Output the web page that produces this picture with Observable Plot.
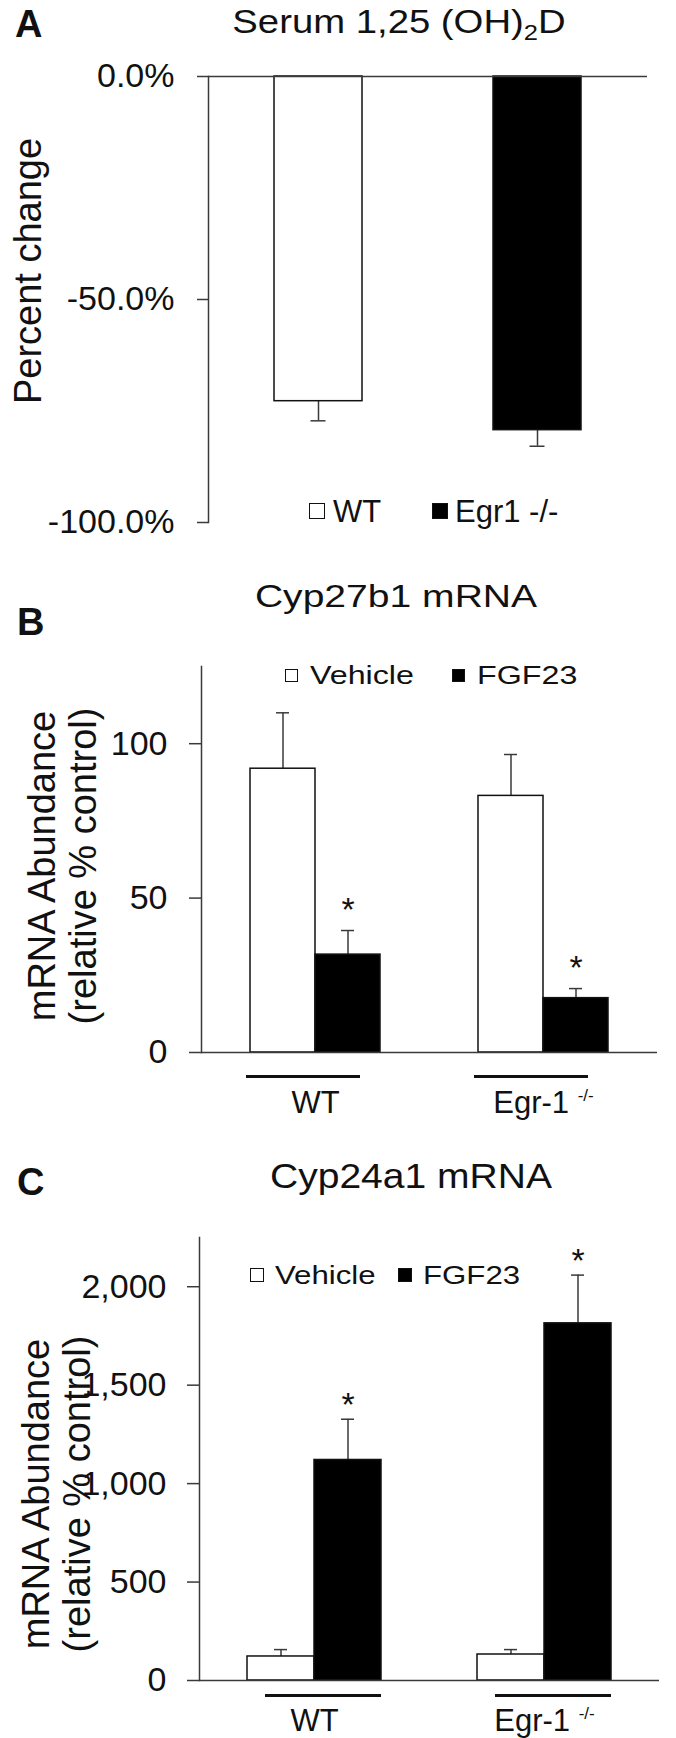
<!DOCTYPE html>
<html><head><meta charset="utf-8">
<script src="https://cdn.jsdelivr.net/npm/d3@7"></script>
<script src="https://cdn.jsdelivr.net/npm/@observablehq/plot@0.6"></script>
<style>
body{margin:0;background:#fff;}
#root{position:relative;width:676px;height:1738px;font-family:"Liberation Sans",Arial,sans-serif;color:#111;overflow:hidden;background:#fff;}
.abs{position:absolute;white-space:nowrap;line-height:1;}
.ylab{position:absolute;white-space:nowrap;text-align:center;transform:translate(-50%,-50%) rotate(-90deg);font-size:38px;line-height:41px;}
.box{position:absolute;box-sizing:border-box;border:1.5px solid #111;}
</style></head><body><div id="root"></div>
<script>
// ---------- data ----------
const panelAGroups = ["WT", "Egr1 -/-"];
const panelAValues = [-72.8, -79.3];
const panelAErrors = [-77.2, -82.9];
const panelATicks = [0, -50, -100];

const groups = ["WT", "Egr-1 -/-"];
const treatments = ["Vehicle", "FGF23"];
// order: WT-Vehicle, WT-FGF23, Egr-Vehicle, Egr-FGF23
const cyp27b1Values = [91.9, 31.7, 83.1, 17.6];
const cyp27b1Errors = [110, 39.5, 96.5, 20.7];
const cyp27b1Ticks = [0, 50, 100];
const cyp24a1Values = [122, 1120, 132, 1814];
const cyp24a1Errors = [157, 1327, 157, 2059];
const cyp24a1Ticks = [0, 500, 1000, 1500, 2000];
const significant = [false, true, false, true];

// ---------- helpers ----------
const FONT = '"Liberation Sans", Arial, sans-serif';
const INK = "#111";
const AXIS = "#3a3a3a";
const root = document.getElementById("root");

function put(html, {x, baseline, size, anchor = "start", bold = false, sx = 1}) {
  const d = document.createElement("div");
  d.className = "abs";
  d.innerHTML = html;
  d.style.fontSize = size + "px";
  d.style.top = (baseline - 0.8465 * size) + "px";
  d.style.left = x + "px";
  if (bold) d.style.fontWeight = "bold";
  if (anchor === "middle") {
    d.style.transformOrigin = "center";
    d.style.transform = `translateX(-50%) scaleX(${sx})`;
  } else {
    d.style.transformOrigin = "left";
    d.style.transform = `scaleX(${sx})`;
  }
  root.appendChild(d);
}
function ylab(html, cx, cy) {
  const d = document.createElement("div");
  d.className = "ylab";
  d.innerHTML = html;
  d.style.left = cx + "px";
  d.style.top = cy + "px";
  root.appendChild(d);
}
function legendItem(label, filled, x, textX, cy, o) {
  const b = document.createElement("div");
  b.className = "box";
  b.style.left = x + "px";
  b.style.width = o.box + "px";
  b.style.height = o.box + "px";
  b.style.top = (cy - o.box / 2) + "px";
  b.style.background = filled ? "#000" : "#fff";
  root.appendChild(b);
  put(label, {x: textX, baseline: cy + 0.358 * o.size, size: o.size, sx: o.sx});
}
function place(svg, top) {
  const w = document.createElement("div");
  w.style.position = "absolute";
  w.style.left = "0px";
  w.style.top = top + "px";
  w.appendChild(svg);
  root.appendChild(w);
}
function superscriptLabels(svg) {
  svg.querySelectorAll("text").forEach(t => {
    if (t.textContent === "Egr-1 -/-") {
      t.textContent = "";
      const ns = "http://www.w3.org/2000/svg";
      const a = document.createElementNS(ns, "tspan");
      a.textContent = "Egr-1 ";
      const b = document.createElementNS(ns, "tspan");
      b.textContent = "-/-";
      b.setAttribute("font-size", "17");
      b.setAttribute("dy", "-12");
      t.appendChild(a); t.appendChild(b);
    }
  });
}
const svgStyle = {fontFamily: FONT, color: INK, background: "transparent", overflow: "visible"};

// ---------- Panel A ----------
const dataA = panelAGroups.map((g, i) => ({group: g, value: panelAValues[i], err: panelAErrors[i]}));
const plotA = Plot.plot({
  width: 676, height: 540,
  marginTop: 76, marginBottom: 18, marginLeft: 208, marginRight: 29,
  style: svgStyle,
  x: {domain: panelAGroups, paddingInner: 0.6, paddingOuter: 0.3, axis: null},
  y: {domain: [-100, 0], axis: null},
  color: {domain: panelAGroups, range: ["#fff", "#000"]},
  marks: [
    Plot.frame({anchor: "left", stroke: AXIS, strokeWidth: 1.5}),
    Plot.axisY({ticks: panelATicks, tickFormat: d => (d === 0 ? "0.0" : d.toFixed(1)) + "%",
      tickSize: 11, tickPadding: 23, fontSize: 34, label: null, stroke: AXIS, strokeWidth: 1.5}),
    Plot.ruleX(dataA, {x: "group", y1: "value", y2: "err", stroke: AXIS, strokeWidth: 1.5}),
    Plot.tickY(dataA, {x: "group", y: "err", inset: 36.5, stroke: AXIS, strokeWidth: 1.5}),
    Plot.barY(dataA, {x: "group", y: "value", fill: "group", stroke: INK, strokeWidth: 1.5}),
    Plot.ruleY([0], {stroke: AXIS, strokeWidth: 1.5})
  ]
});
place(plotA, 0);

// ---------- Panels B & C ----------
function buildRows(values, errors) {
  const rows = [];
  groups.forEach((g, gi) => treatments.forEach((t, ti) => {
    const k = gi * 2 + ti;
    rows.push({group: g, treat: t, value: values[k], err: errors[k], sig: significant[k]});
  }));
  return rows;
}
function groupedPanel(rows, o) {
  return Plot.plot({
    width: 676, height: o.height,
    marginTop: o.marginTop, marginBottom: o.marginBottom, marginLeft: o.marginLeft, marginRight: o.marginRight,
    style: svgStyle,
    fx: {domain: groups, paddingInner: 0, paddingOuter: 0},
    x: {domain: treatments, paddingInner: 0, paddingOuter: o.paddingOuter, axis: null},
    y: {domain: o.domain, axis: null},
    color: {domain: treatments, range: ["#fff", "#000"]},
    marks: [
      Plot.frame({anchor: "left", fx: groups[0], stroke: AXIS, strokeWidth: 1.5}),
      Plot.axisY({ticks: o.ticks, tickFormat: d3.format(","), tickSize: 12, tickPadding: o.tickPadding,
        fontSize: 34, label: null, stroke: AXIS, strokeWidth: 1.5}),
      Plot.axisFx({anchor: "bottom", tickSize: 0, tickPadding: o.fxPadding, fontSize: 31, label: null}),
      Plot.ruleX(rows, {fx: "group", x: "treat", y1: "value", y2: "err", stroke: AXIS, strokeWidth: 1.5}),
      Plot.tickY(rows, {fx: "group", x: "treat", y: "err", inset: o.capInset, stroke: AXIS, strokeWidth: 1.5}),
      Plot.barY(rows, {fx: "group", x: "treat", y: "value", fill: "treat", stroke: INK, strokeWidth: 1.5}),
      Plot.text(rows.filter(d => d.sig), {fx: "group", x: "treat", y: "err", text: () => "*",
        fontSize: 34, lineAnchor: "bottom", dy: o.starDy, fill: INK}),
      Plot.ruleY([0], {stroke: AXIS, strokeWidth: 1.5}),
      Plot.ruleY([0], {dy: o.underDy, insetLeft: o.underLeft, insetRight: o.underRight, stroke: INK, strokeWidth: 3})
    ]
  });
}
const plotB = groupedPanel(buildRows(cyp27b1Values, cyp27b1Errors), {
  height: 590, marginTop: 126, marginBottom: 78, marginLeft: 200, marginRight: 19,
  paddingOuter: 0.744, domain: [0, 125], ticks: cyp27b1Ticks, tickPadding: 22,
  fxPadding: 38, capInset: 26, starDy: -10, underDy: 24, underLeft: 45, underRight: 69
});
superscriptLabels(plotB);
place(plotB, 540);

const plotC = groupedPanel(buildRows(cyp24a1Values, cyp24a1Errors), {
  height: 608, marginTop: 107, marginBottom: 58, marginLeft: 199, marginRight: 17,
  paddingOuter: 0.716, domain: [0, 2250], ticks: cyp24a1Ticks, tickPadding: 21,
  fxPadding: 28, capInset: 27, starDy: -3, underDy: 15, underLeft: 66, underRight: 48
});
superscriptLabels(plotC);
place(plotC, 1130);

// ---------- titles, letters, axis labels, legends ----------
put("A", {x: 15, baseline: 37, size: 38, bold: true});
put('Serum 1,25 (OH)<span style="font-size:22px;position:relative;top:7px">2</span>D',
  {x: 399, baseline: 33, size: 33, anchor: "middle", sx: 1.16});
ylab("Percent change", 28, 271);
const legA = {size: 31, box: 16, sx: 1};
legendItem("WT", false, 309, 333, 511, legA);
legendItem("Egr1 -/-", true, 432, 455, 511, legA);

put("B", {x: 17, baseline: 635, size: 38, bold: true});
put("Cyp27b1 mRNA", {x: 396, baseline: 607, size: 31, anchor: "middle", sx: 1.26});
ylab("mRNA Abundance<br>(relative % control)", 63, 866);
const legB = {size: 26, box: 13, sx: 1.24};
legendItem("Vehicle", false, 285, 310, 675, legB);
legendItem("FGF23", true, 452, 477, 675, legB);

put("C", {x: 17, baseline: 1195, size: 38, bold: true});
put("Cyp24a1 mRNA", {x: 411, baseline: 1188, size: 35, anchor: "middle", sx: 1.115});
ylab("mRNA Abundance<br>(relative % control)", 57, 1494);
const legC = {size: 26, box: 14, sx: 1.2};
legendItem("Vehicle", false, 250, 275, 1275, legC);
legendItem("FGF23", true, 398, 423, 1275, legC);
</script>
</body></html>
